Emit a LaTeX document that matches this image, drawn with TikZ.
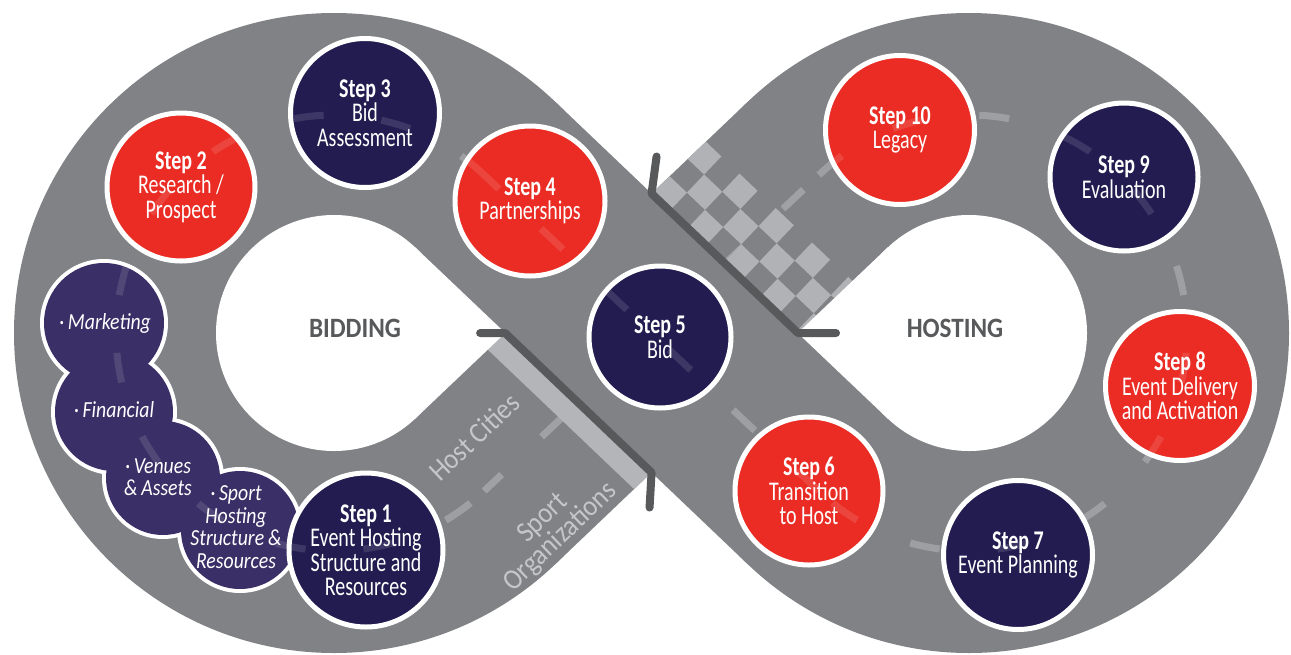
\documentclass[tikz,border=0pt]{standalone}
\usepackage{fontspec}
\setmainfont{Carlito}
\newfontfamily\stepfont[FakeStretch=0.74]{Carlito}
\newfontfamily\bulfont[FakeStretch=0.86]{Carlito}
\newfontfamily\labfont[FakeStretch=0.9]{Carlito}
\usetikzlibrary{calc}
\definecolor{track}{HTML}{808285}
\definecolor{darkln}{HTML}{58595B}
\definecolor{lightstrip}{HTML}{B4B5B8}
\definecolor{chk}{HTML}{B1B2B5}
\definecolor{stepred}{HTML}{EA2C24}
\definecolor{stepnavy}{HTML}{231C50}
\definecolor{bulpurp}{HTML}{3A2F66}
\definecolor{hosttxt}{HTML}{C5C6C8}
\definecolor{phasetxt}{HTML}{58595B}
\newcommand\mytrackdashes[1]{%
  \draw[dashline, draw opacity=#1] ($(L)+(46.46:218)$) arc[start angle=46.46, end angle=313.54, radius=218];
  \draw[dashline, draw opacity=#1] ($(R)+(133.54:218)$) arc[start angle=133.54, end angle=-133.54, radius=218];
  \draw[dashline, draw opacity=#1] ($(R)+(226.46:218)$) -- ($(L)+(46.46:218)$);}
\begin{document}
\begin{tikzpicture}[x=1pt,y=1pt,
  stepcirc/.style={circle, draw=white, line width=5pt, inner sep=0pt, minimum size=#1},
  steptxt/.style={text=white, align=center, inner sep=0pt, font=\stepfont\fontsize{27}{24.5}\selectfont},
  bulring/.style={circle, fill=white, inner sep=0pt, minimum size=#1},
  bulcirc/.style={circle, fill=bulpurp, inner sep=0pt, minimum size=#1},
  bultxt/.style={text=white, align=center, inner sep=0pt, font=\bulfont\itshape\fontsize{23}{22.5}\selectfont},
  darkline/.style={draw=darkln, line width=8pt, line cap=round, line join=round},
  dashline/.style={draw=white, line width=7pt, dash pattern=on 30pt off 58pt},
  hostlab/.style={text=hosttxt, align=center, inner sep=0pt, rotate=43.5, font=\labfont\fontsize{29}{26}\selectfont},
  phase/.style={text=phasetxt, inner sep=0pt, font=\labfont\bfseries\fontsize{28}{30}\selectfont}]
\useasboundingbox (0,0) rectangle (1291,-654);
\fill[white] (0,0) rectangle (1291,-654);
% lobe centres
\coordinate (L) at (334,-333);
\coordinate (R) at (969,-333);
% band edges
\coordinate (E1a) at ($(L)+(46.46:320)$);
\coordinate (E1b) at ($(R)+(226.46:118)$);
\coordinate (E2a) at ($(L)+(46.46:118)$);
\coordinate (E2b) at ($(R)+(226.46:320)$);
\coordinate (F1a) at ($(L)+(-46.46:118)$);
\coordinate (F1b) at ($(R)+(133.54:320)$);
\coordinate (F2a) at ($(L)+(-46.46:320)$);
\coordinate (F2b) at ($(R)+(133.54:118)$);
\coordinate (A) at (intersection of E1a--E1b and F1a--F1b);
\coordinate (B) at (intersection of E1a--E1b and F2a--F2b);
\coordinate (C) at (intersection of E2a--E2b and F1a--F1b);
\coordinate (D) at (intersection of E2a--E2b and F2a--F2b);
% track body
\fill[track] (L) circle[radius=320];
\fill[track] (R) circle[radius=320];
\fill[track] (F1a)--(F1b)--(F2b)--(F2a)--cycle;
% under-band centre dashes
\draw[dashline, draw opacity=0.25, dash pattern=on 28pt off 55pt, dash phase=4pt] ($(L)+(-46.46:218)$) -- ($(R)+(133.54:218)$);
% details on the lower band
\begin{scope}
  \clip (F1a)--(F1b)--(F2b)--(F2a)--cycle;
  \fill[lightstrip] (E2a) -- (E2b) -- ($(E2b)+(-133.54:24)$) -- ($(E2a)+(-133.54:24)$) -- cycle;
  \begin{scope}[shift={(A)}, rotate=-43.54]
    \foreach \i in {-4,...,10}{
      \foreach \j in {0,1,2}{
        \pgfmathtruncatemacro\k{mod(\i+\j+20,2)}
        \ifnum\k=0 \fill[chk] (\i*25,\j*25) rectangle ++(25,25); \fi
      }
    }
  \end{scope}
\end{scope}
\node[hostlab] (hc) at (474,-437) {Host Cities};
\node[hostlab] (so) at (552,-528) {Sport\\Organizations};
% upper band
\fill[track] (E1a)--(E1b)--(E2b)--(E2a)--cycle;
% holes
\fill[white] (L) circle[radius=118];
\fill[white] (E2a) -- ($(L)+(171.3,0)$) -- (F1a) -- (L) -- cycle;
\fill[white] (R) circle[radius=118];
\fill[white] (F2b) -- ($(R)+(-171.3,0)$) -- (E1b) -- (R) -- cycle;
% start/finish brackets
\draw[darkline] ($(A)+(5,37)$) -- (A) -- (B) -- ($(B)+(38,0)$);
\draw[darkline] ($(C)+(-25,0)$) -- (C) -- (D) -- ($(D)+(-2,-35)$);
% centre-line dashes under the circles
\mytrackdashes{0.24}
% sub-item circles
\node[bulring=128] at (104,-323) {};
\node[bulring=126] at (114,-412) {};
\node[bulring=122] at (163,-478) {};
\node[bulring=126] at (240,-530) {};
\node[bulcirc=120] (b1) at (104,-323) {};
\node[bulcirc=118] (b2) at (114,-412) {};
\node[bulcirc=114] (b3) at (163,-478) {};
\node[bulcirc=118] (b4) at (240,-530) {};
% steps
\node[stepcirc=154, fill=stepnavy] (s1) at (366,-550) {};
\node[stepcirc=148, fill=stepred]  (s2) at (181,-187) {};
\node[stepcirc=149, fill=stepnavy] (s3) at (365,-113) {};
\node[stepcirc=150, fill=stepred]  (s4) at (530,-201) {};
\node[stepcirc=142, fill=stepnavy] (s5) at (660,-337) {};
\node[stepcirc=148, fill=stepred]  (s6) at (809,-491) {};
\node[stepcirc=149, fill=stepnavy] (s7) at (1018,-555) {};
\node[stepcirc=149, fill=stepred]  (s8) at (1180,-386) {};
\node[stepcirc=148, fill=stepnavy] (s9) at (1124,-177) {};
\node[stepcirc=149, fill=stepred]  (s10) at (900,-130) {};
% faint dashes showing through the circles
\begin{scope}
  \clip (b1) circle[radius=60] (b2) circle[radius=59] (b3) circle[radius=57] (b4) circle[radius=59]
        (s1) circle[radius=75] (s2) circle[radius=72] (s3) circle[radius=72] (s4) circle[radius=73]
        (s5) circle[radius=69] (s6) circle[radius=72] (s7) circle[radius=72] (s8) circle[radius=72]
        (s9) circle[radius=72] (s10) circle[radius=72];
  \mytrackdashes{0.12}
\end{scope}
% sub-item texts
\node[bultxt] (t1) at (105,-323) {·\,Marketing};
\node[bultxt] (t2) at (114,-410) {·\,Financial};
\node[bultxt] (t3) at (158,-477) {·\,Venues\\\&\,Assets};
\node[bultxt] (t4) at (236,-527) {·\,Sport\\Hosting\\Structure\,\&\\Resources};
% step texts
\node[steptxt] (x1) at (s1) {\textbf{Step 1}\\Event Hosting\\Structure and\\Resources};
\node[steptxt] (x2) at (s2) {\textbf{Step 2}\\Research /\\Prospect};
\node[steptxt] (x3) at (s3) {\textbf{Step 3}\\Bid\\Assessment};
\node[steptxt] (x4) at (s4) {\textbf{Step 4}\\Partnerships};
\node[steptxt] (x5) at (s5) {\textbf{Step 5}\\Bid};
\node[steptxt] (x6) at (s6) {\textbf{Step 6}\\Transition\\to Host};
\node[steptxt] (x7) at (s7) {\textbf{Step 7}\\Event Planning};
\node[steptxt] (x8) at (s8) {\textbf{Step 8}\\Event Delivery\\and Activation};
\node[steptxt] (x9) at (s9) {\textbf{Step 9}\\Evaluation};
\node[steptxt] (x10) at (s10) {\textbf{Step 10}\\Legacy};
% phase labels
\node[phase] (bid) at (355,-328) {BIDDING};
\node[phase] (host) at (955,-328) {HOSTING};
\end{tikzpicture}
\end{document}
